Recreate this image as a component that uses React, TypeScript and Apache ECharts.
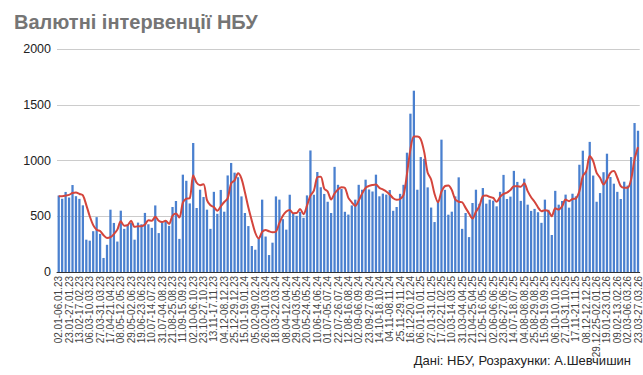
import React, { useEffect, useRef } from "react";
import * as echarts from "echarts";

const weeks: string[] = [
  "02.01-06.01.23","09.01-13.01.23","16.01-20.01.23","23.01-27.01.23","30.01-03.02.23","06.02-10.02.23","13.02-17.02.23","20.02-24.02.23","27.02-03.03.23","06.03-10.03.23",
  "13.03-17.03.23","20.03-24.03.23","27.03-31.03.23","03.04-07.04.23","10.04-14.04.23","17.04-21.04.23","24.04-28.04.23","01.05-05.05.23","08.05-12.05.23","15.05-19.05.23",
  "22.05-26.05.23","29.05-02.06.23","05.06-09.06.23","12.06-16.06.23","19.06-23.06.23","26.06-30.06.23","03.07-07.07.23","10.07-14.07.23","17.07-21.07.23","24.07-28.07.23",
  "31.07-04.08.23","07.08-11.08.23","14.08-18.08.23","21.08-25.08.23","28.08-01.09.23","04.09-08.09.23","11.09-15.09.23","18.09-22.09.23","25.09-29.09.23","02.10-06.10.23",
  "09.10-13.10.23","16.10-20.10.23","23.10-27.10.23","30.10-03.11.23","06.11-10.11.23","13.11-17.11.23","20.11-24.11.23","27.11-01.12.23","04.12-08.12.23","11.12-15.12.23",
  "18.12-22.12.23","25.12-29.12.23",
  "01.01-05.01.24","08.01-12.01.24","15.01-19.01.24","22.01-26.01.24","29.01-02.02.24","05.02-09.02.24","12.02-16.02.24","19.02-23.02.24","26.02-01.03.24","04.03-08.03.24",
  "11.03-15.03.24","18.03-22.03.24","25.03-29.03.24","01.04-05.04.24","08.04-12.04.24","15.04-19.04.24","22.04-26.04.24","29.04-03.05.24","06.05-10.05.24","13.05-17.05.24",
  "20.05-24.05.24","27.05-31.05.24","03.06-07.06.24","10.06-14.06.24","17.06-21.06.24","24.06-28.06.24","01.07-05.07.24","08.07-12.07.24","15.07-19.07.24","22.07-26.07.24",
  "29.07-02.08.24","05.08-09.08.24","12.08-16.08.24","19.08-23.08.24","26.08-30.08.24","02.09-06.09.24","09.09-13.09.24","16.09-20.09.24","23.09-27.09.24","30.09-04.10.24",
  "07.10-11.10.24","14.10-18.10.24","21.10-25.10.24","28.10-01.11.24","04.11-08.11.24","11.11-15.11.24","18.11-22.11.24","25.11-29.11.24","02.12-06.12.24","09.12-13.12.24",
  "16.12-20.12.24","23.12-27.12.24","30.12.24-03.01.25",
  "06.01-10.01.25","13.01-17.01.25","20.01-24.01.25","27.01-31.01.25","03.02-07.02.25","10.02-14.02.25","17.02-21.02.25","24.02-28.02.25","03.03-07.03.25","10.03-14.03.25",
  "17.03-21.03.25","24.03-28.03.25","31.03-04.04.25","07.04-11.04.25","14.04-18.04.25","21.04-25.04.25","28.04-02.05.25","05.05-09.05.25","12.05-16.05.25","19.05-23.05.25",
  "26.05-30.05.25","02.06-06.06.25","09.06-13.06.25","16.06-20.06.25","23.06-27.06.25","30.06-04.07.25","07.07-11.07.25","14.07-18.07.25","21.07-25.07.25","28.07-01.08.25",
  "04.08-08.08.25","11.08-15.08.25","18.08-22.08.25","25.08-29.08.25","01.09-05.09.25","08.09-12.09.25","15.09-19.09.25","22.09-26.09.25","29.09-03.10.25","06.10-10.10.25",
  "13.10-17.10.25","20.10-24.10.25","27.10-31.10.25","03.11-07.11.25","10.11-14.11.25","17.11-21.11.25","24.11-28.11.25","01.12-05.12.25","08.12-12.12.25","15.12-19.12.25",
  "22.12-26.12.25","29.12.25-02.01.26",
  "05.01-09.01.26","12.01-16.01.26","19.01-23.01.26","26.01-30.01.26","02.02-06.02.26","09.02-13.02.26","16.02-20.02.26","23.02-27.02.26","02.03-06.03.26","09.03-13.03.26",
  "16.03-20.03.26","23.03-27.03.26",
];

const interventions: number[] = [
  686, 657, 718, 668, 780, 680, 656, 598, 290, 281,
  366, 492, 342, 126, 244, 559, 440, 273, 550, 387,
  425, 440, 290, 443, 428, 530, 428, 396, 597, 349,
  446, 460, 414, 583, 637, 297, 873, 818, 615, 1157,
  574, 738, 673, 559, 387, 719, 522, 736, 541, 866,
  978, 891, 850, 678, 529, 412, 233, 200, 300, 649,
  318, 152, 263, 678, 649, 474, 380, 693, 522, 504,
  540, 486, 687, 1090, 693, 897, 760, 700, 630, 529,
  943, 782, 745, 540, 515, 597, 649, 782, 738, 828,
  740, 722, 873, 679, 703, 694, 735, 549, 583, 701,
  782, 1070, 1420, 1626, 738, 1031, 1015, 759, 578, 448,
  640, 1187, 737, 514, 541, 678, 849, 387, 529, 313,
  619, 738, 612, 753, 613, 649, 640, 589, 719, 871,
  655, 676, 907, 808, 638, 837, 604, 548, 566, 536,
  441, 649, 558, 332, 728, 604, 637, 694, 577, 702,
  679, 962, 1088, 903, 1167, 865, 630, 708, 895, 1061,
  852, 792, 719, 655, 810, 775, 1031, 1336, 1267,
];

const movingAverage: number[] = [
  680, 680, 685, 692, 708, 712, 700, 688, 600, 500,
  420, 378, 368, 330, 305, 312, 340, 380, 455, 415,
  420, 460, 405, 410, 410, 425, 465, 460, 495, 460,
  448, 460, 432, 505, 525, 488, 622, 658, 662, 868,
  800, 778, 788, 645, 598, 582, 550, 588, 628, 660,
  795, 822, 885, 838, 715, 578, 460, 352, 300, 360,
  377, 365, 356, 362, 440, 505, 542, 556, 528, 529,
  566, 518, 595, 685, 730, 850, 855, 748, 722, 650,
  704, 740, 760, 755, 665, 625, 592, 640, 705, 755,
  772, 780, 785, 755, 740, 722, 695, 662, 648, 655,
  690, 880, 1100, 1215, 1215, 1190, 1075, 890, 830, 700,
  625, 720, 770, 775, 735, 650, 630, 625, 575, 525,
  480, 540, 590, 680, 686, 674, 665, 629, 674, 700,
  712, 735, 770, 770, 765, 795, 725, 670, 630, 580,
  545, 554, 545, 500, 572, 560, 590, 650, 635, 655,
  660, 725, 860, 905, 1040, 995, 890, 845, 785, 830,
  890, 905, 845, 770, 755, 755, 830, 1010, 1120,
];

const yTicks = { min: 0, max: 2000, interval: 500 };
const titleText = "Валютні інтервенції НБУ";
const sourceText = "Дані: НБУ, Розрахунки: А.Шевчишин";

const FONT = "'Liberation Sans', Arial, sans-serif";

export default function App() {
  const ref = useRef<HTMLDivElement>(null);
  useEffect(() => {
    if (!ref.current) return;
    const chart = echarts.init(ref.current, undefined, { renderer: "svg" });
    chart.setOption({
      animation: false,
      backgroundColor: "#ffffff",
      title: {
        text: titleText,
        left: 9,
        top: 7,
        textStyle: { fontFamily: FONT, fontSize: 20, fontWeight: "bold", color: "#757575" },
      },
      graphic: [
        {
          type: "text",
          right: 12,
          top: 354,
          style: { text: sourceText, fontFamily: FONT, fontSize: 13, fill: "#222222" },
        },
      ],
      grid: { left: 57, right: 2, top: 49, bottom: 103, containLabel: false },
      xAxis: {
        type: "category",
        data: weeks,
        boundaryGap: true,
        axisLine: { show: true, lineStyle: { color: "#333333", width: 1 } },
        axisTick: { show: false },
        axisLabel: {
          interval: 2,
          rotate: 90,
          fontFamily: FONT,
          fontSize: 10,
          color: "#444444",
          margin: 4,
        },
      },
      yAxis: {
        type: "value",
        min: yTicks.min,
        max: yTicks.max,
        interval: yTicks.interval,
        axisLine: { show: false },
        axisTick: { show: false },
        splitLine: { lineStyle: { color: "#cccccc", width: 1 } },
        axisLabel: {
          fontFamily: FONT,
          fontSize: 12.5,
          color: "#222222",
          margin: 6,
          formatter: (v: number) => String(v),
        },
      },
      series: [
        {
          type: "bar",
          data: interventions,
          barWidth: "66%",
          itemStyle: { color: "#4a80cf" },
        },
        {
          type: "line",
          data: movingAverage,
          symbol: "none",
          smooth: 0.3,
          lineStyle: { color: "#d4453c", width: 2 },
        },
      ],
    });
    return () => chart.dispose();
  }, []);
  return (
    <div
      ref={ref}
      style={{ position: "absolute", left: 0, top: 0, width: 643, height: 375 }}
    />
  );
}
